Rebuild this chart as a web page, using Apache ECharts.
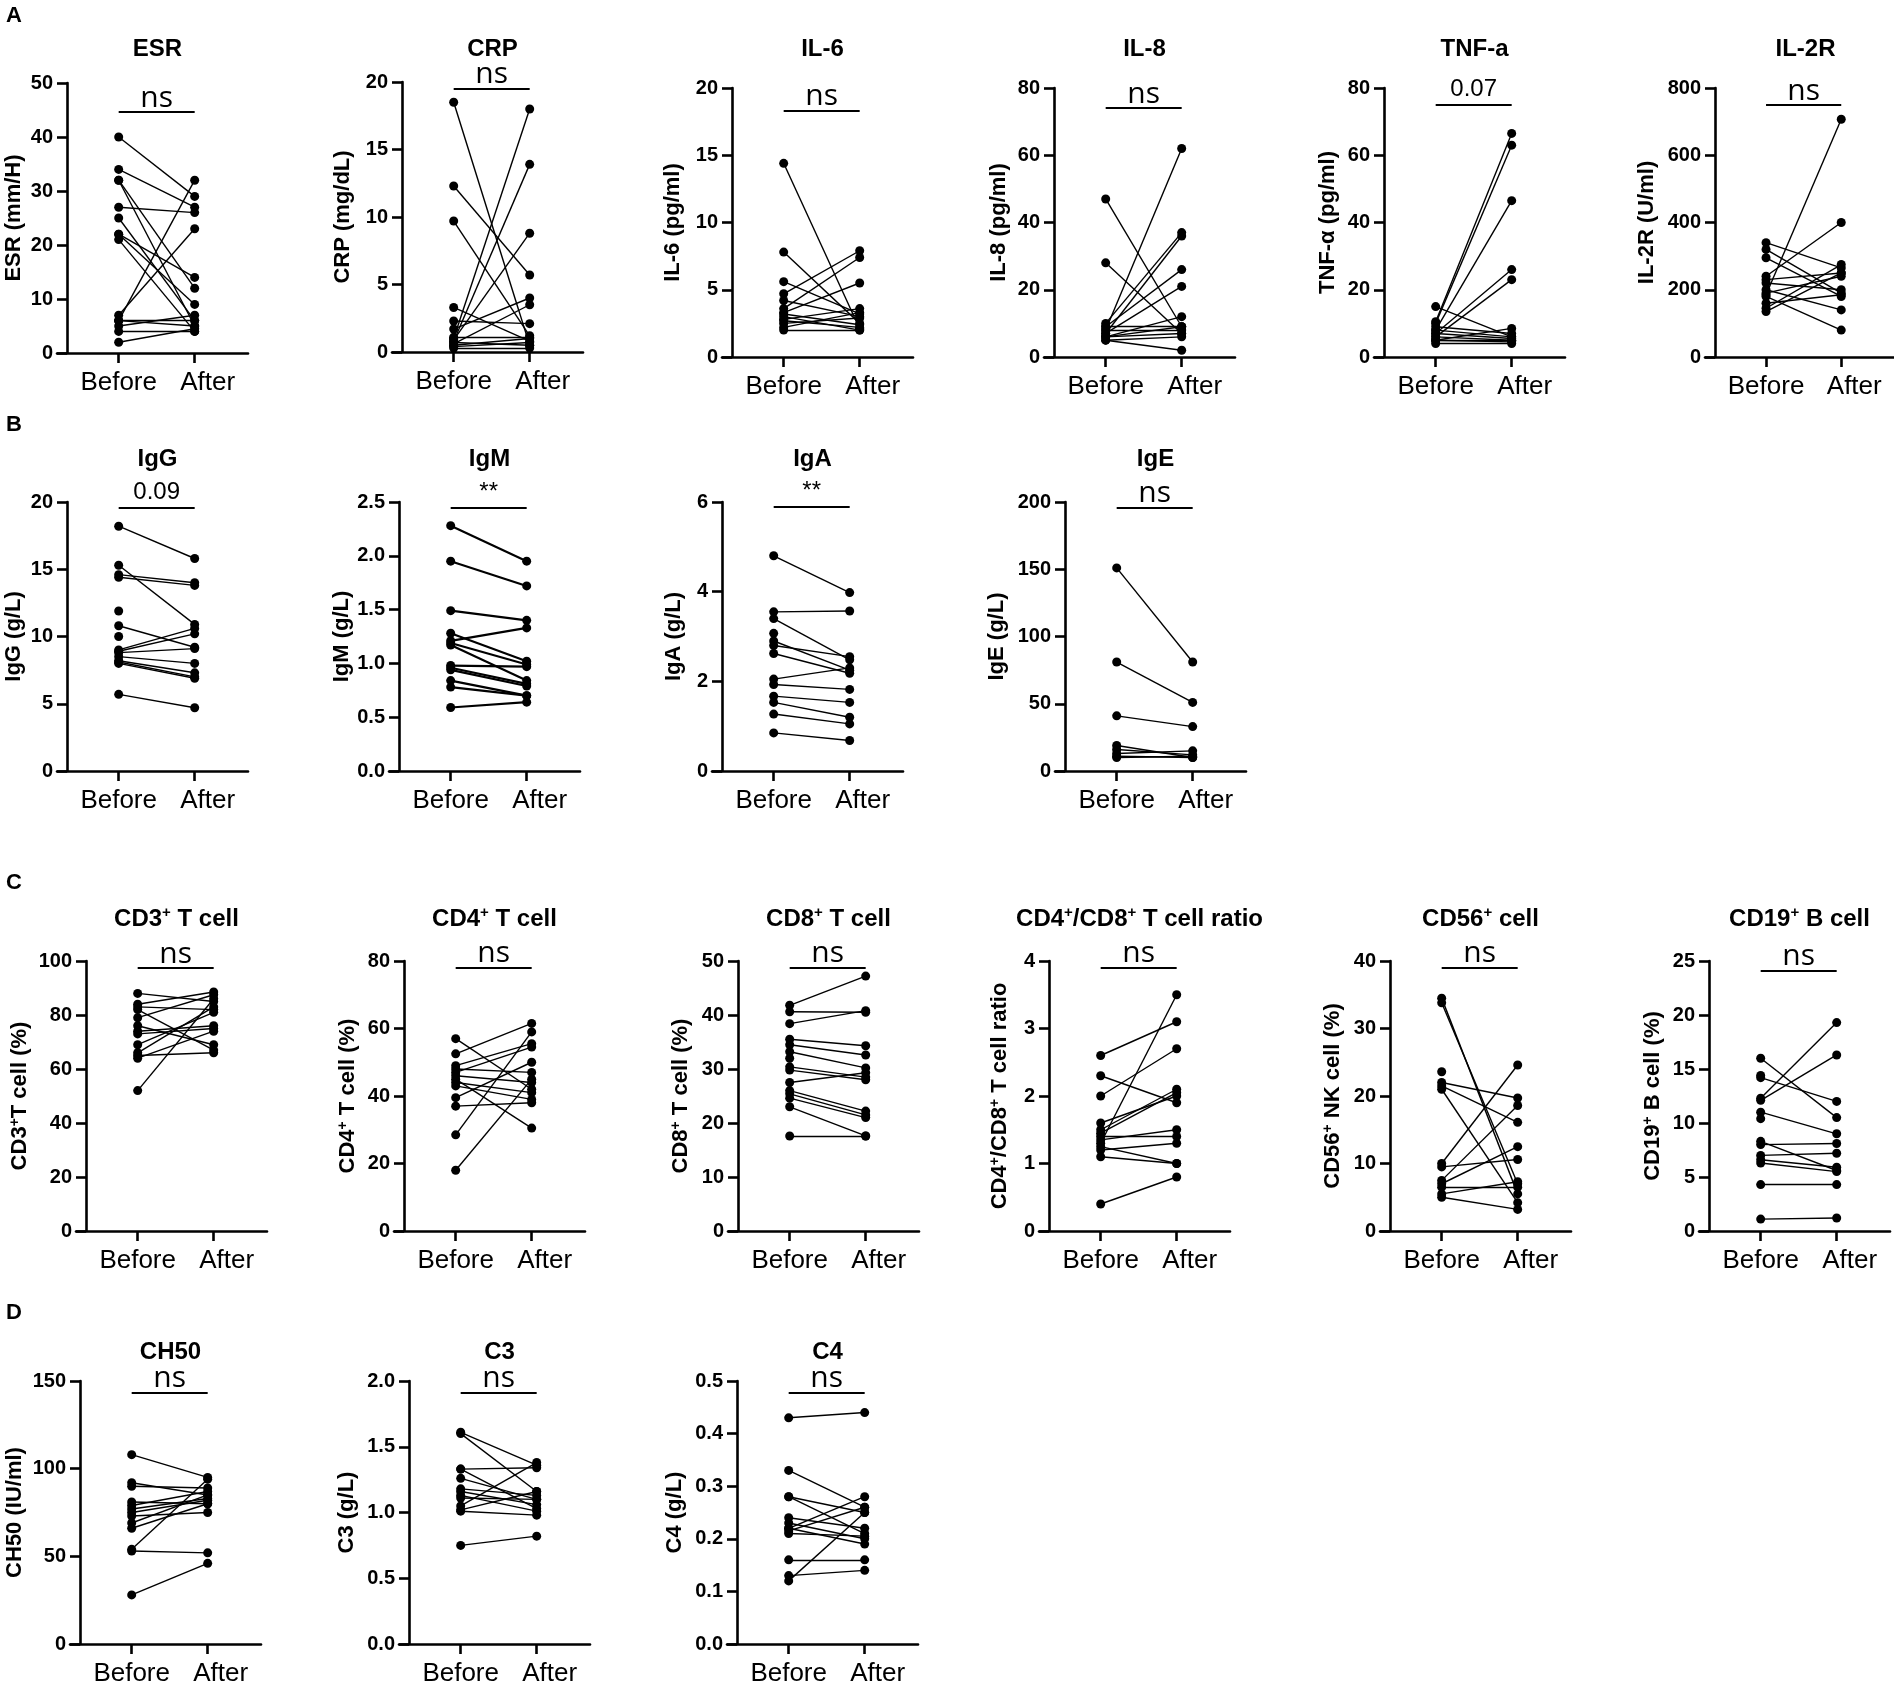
<!DOCTYPE html>
<html>
<head>
<meta charset="utf-8">
<script src="https://cdn.jsdelivr.net/npm/echarts@6/dist/echarts.min.js"></script>
<style>
  html, body { margin: 0; padding: 0; background: #fff; }
  #chart { width: 1894px; height: 1687px; }
</style>
</head>
<body>
<div id="chart"></div>
<script>
// x categories
var xCats = ['Before', 'After'];

// A: inflammation markers / cytokines (paired, same index = same patient)
var esrBefore = [40, 34, 32, 32, 27, 25, 22, 22, 21, 7, 6, 6, 6, 5, 4, 2];
var esrAfter  = [29, 27, 12, 5, 26, 6, 14, 9, 4, 23, 32, 6, 5, 7, 4, 4.5];
var crpBefore = [18.5, 12.3, 9.7, 3.3, 2.3, 1.7, 1.0, 0.8, 0.9, 0.6, 0.5, 0.4, 0.3, 1.1, 0.7];
var crpAfter  = [0.5, 5.7, 1.2, 0.8, 2.1, 4.0, 18.0, 13.9, 8.8, 3.5, 1.0, 0.7, 0.3, 1.1, 0.5];
var il6Before = [14.4, 7.8, 5.6, 4.7, 4.2, 3.6, 3.3, 3.0, 2.8, 2.5, 3.2, 2.0, 2.2, 2.7];
var il6After  = [2.1, 2.5, 3.2, 7.9, 3.0, 7.4, 5.5, 2.0, 3.6, 2.9, 2.4, 2.0, 3.3, 2.2];
var il8Before = [47, 28, 10, 9, 8, 7, 7, 6, 6, 5, 5, 8, 9, 6];
var il8After  = [9, 7, 37, 26, 62, 36, 21, 12, 9, 2, 6, 8, 9, 7];
var tnfBefore = [15, 10.5, 10, 9, 8, 7, 6, 6, 5, 5, 4, 7, 8, 5];
var tnfAfter  = [6, 66.5, 63, 7, 46.5, 26, 23, 5, 8.5, 4.5, 4, 5.5, 6, 5];
var il2rBefore = [340, 320, 295, 240, 230, 220, 200, 190, 180, 185, 145, 135, 160];
var il2rAfter  = [265, 190, 180, 400, 250, 200, 140, 240, 80, 707, 275, 250, 185];

// B: immunoglobulins
var iggBefore = [18.2, 15.3, 14.6, 14.4, 11.9, 10.8, 10.0, 9.0, 8.9, 8.8, 8.5, 8.2, 8.1, 8.0, 5.7];
var iggAfter  = [15.8, 10.9, 14.0, 13.8, null, 9.2, null, 10.6, 10.2, 9.1, 8.0, 7.3, 7.0, 6.9, 4.7];
var igmBefore = [2.28, 1.95, 1.49, 1.28, 1.21, 1.19, 1.17, 0.98, 0.96, 0.94, 0.84, 0.78, 0.59];
var igmAfter  = [1.95, 1.72, 1.40, 1.02, 1.33, 0.99, 0.84, 0.97, 0.81, 0.79, 0.70, 0.70, 0.64];
var igaBefore = [4.8, 3.55, 3.4, 3.07, 2.9, 2.8, 2.62, 2.05, 1.93, 1.67, 1.53, 1.27, 0.85];
var igaAfter  = [3.98, 3.57, 2.48, null, 2.25, 2.55, 2.18, 2.3, 1.82, 1.53, 1.2, 1.05, 0.68];
var igeBefore = [151, 81, 41, 19, 16, 13, 11, 10];
var igeAfter  = [81, 51, 33, 10, 12, 15, 10, 11];

// C: lymphocyte subsets
var cd3Before = [88, 84, 83, 82, 79, 76, 73, 69, 66, 65, 64, 52, 74];
var cd3After  = [85, 88.5, 82, 67, 87.5, 69, 75, 81, 83, 66, 74, 86, 76];
var cd4Before = [57, 52.5, 49, 48, 47, 46, 45, 44, 43, 39.5, 37, 28.5, 18];
var cd4After  = [42, 61.5, 55.5, 47, 54.5, 44, 30.5, 41, 39, 50, 38, 59, 45];
var cd8Before = [41.8, 40.6, 38.4, 35.5, 34.5, 33.2, 32, 30.4, 29.8, 27.5, 26, 25.4, 24.6, 23, 17.6];
var cd8After  = [47.2, 40.5, 40.8, 34.3, 32.6, 30.2, null, 28.5, 28.0, 29.3, 22.2, 21.5, 21.0, 17.6, 17.6];
var ratioBefore = [2.6, 2.3, 2.0, 1.6, 1.5, 1.45, 1.4, 1.35, 1.3, 1.25, 1.2, 1.1, 0.4];
var ratioAfter  = [3.1, 1.9, 2.7, 2.0, 2.1, 2.05, 1.4, 1.5, 3.5, 1.0, 1.3, 1.0, 0.8];
var cd56Before = [34.5, 33.8, 23.6, 22, 21.5, 21, 10, 9.5, 7.5, 7, 6.5, 5.5, 5];
var cd56After  = [5.5, 7, null, 19.7, 16.1, 4.2, 24.6, 10.6, 18.6, 12.5, 6.5, 7.3, 3.2];
var cd19Before = [16, 14.4, 14.2, 12.3, 12.1, 11, 10.4, 8.3, 8.0, 7.0, 6.6, 6.3, 4.3, 1.1];
var cd19After  = [10.5, null, 12.0, 19.3, 16.3, 9.0, null, 5.6, 8.1, 7.2, 5.9, 5.5, 4.3, 1.2];

// D: complement
var ch50Before = [108, 92, 90, 81, 79, 77, 75, 73, 69, 66, 54, 53, 28];
var ch50After  = [95, 85, 89, 80, 87, 83, 82, 75, 85, 80, 94, 52, 46];
var c3Before = [1.61, 1.60, 1.33, 1.33, 1.26, 1.18, 1.16, 1.13, 1.11, 1.05, 1.02, 1.01, 0.75];
var c3After  = [1.36, 1.16, 1.34, 1.03, 1.10, 1.13, 1.06, 1.01, 1.10, 1.38, 1.16, 0.98, 0.82];
var c4Before = [0.43, 0.33, 0.28, 0.28, 0.24, 0.23, 0.22, 0.22, 0.215, 0.21, 0.16, 0.13, 0.12];
var c4After  = [0.44, 0.26, 0.25, 0.21, 0.22, 0.20, 0.28, 0.19, 0.26, 0.205, 0.16, 0.14, 0.25];

// significance labels and bar heights (axis units)
var sigText = ['ns','ns','ns','ns','0.07','ns', '0.09','**','**','ns', 'ns','ns','ns','ns','ns','ns', 'ns','ns','ns'];
var sigLevel = [44.6, 19.5, 18.3, 74, 75, 749, 19.6, 2.45, 5.9, 196, 97.4, 78, 48.8, 3.9, 39, 24.1, 143.5, 1.91, 0.478];

var FONT = '"Liberation Sans", Arial, sans-serif';

function sup(a, b) { return '{m|' + a + '}{s|+}{m|' + b + '}'; }

var panels = [
  {title:'ESR', yName:'ESR (mm/H)', b:esrBefore, a:esrAfter, max:50, step:10, x:67, top:83, bottom:353, gap:41, ty:49},
  {title:'CRP', yName:'CRP (mg/dL)', b:crpBefore, a:crpAfter, max:20, step:5, x:402, top:82, bottom:352, gap:47, ty:49},
  {title:'IL-6', yName:'IL-6 (pg/ml)', b:il6Before, a:il6After, max:20, step:5, x:732, top:88, bottom:357, gap:47, ty:49},
  {title:'IL-8', yName:'IL-8 (pg/ml)', b:il8Before, a:il8After, max:80, step:20, x:1054, top:88, bottom:357, gap:43, ty:49},
  {title:'TNF-a', yName:'TNF-α (pg/ml)', b:tnfBefore, a:tnfAfter, max:80, step:20, x:1384, top:88, bottom:357, gap:44, ty:49},
  {title:'IL-2R', yName:'IL-2R (U/ml)', b:il2rBefore, a:il2rAfter, max:800, step:200, x:1715, top:88, bottom:357, gap:56, ty:49},

  {title:'IgG', yName:'IgG (g/L)', b:iggBefore, a:iggAfter, max:20, step:5, x:67, top:502, bottom:771, gap:41, ty:459},
  {title:'IgM', yName:'IgM (g/L)', b:igmBefore, a:igmAfter, max:2.5, step:0.5, x:399, top:502, bottom:771, gap:44, ty:459, dec:1, lw:2.2},
  {title:'IgA', yName:'IgA (g/L)', b:igaBefore, a:igaAfter, max:6, step:2, x:722, top:502, bottom:771, gap:36, ty:459},
  {title:'IgE', yName:'IgE (g/L)', b:igeBefore, a:igeAfter, max:200, step:50, x:1065, top:502, bottom:771, gap:56, ty:459},

  {title:sup('CD3', ' T cell'), yName:sup('CD3', 'T cell (%)'), b:cd3Before, a:cd3After, max:100, step:20, x:86, top:961, bottom:1231, gap:54, ty:919},
  {title:sup('CD4', ' T cell'), yName:sup('CD4', ' T cell (%)'), b:cd4Before, a:cd4After, max:80, step:20, x:404, top:961, bottom:1231, gap:44, ty:919},
  {title:sup('CD8', ' T cell'), yName:sup('CD8', ' T cell (%)'), b:cd8Before, a:cd8After, max:50, step:10, x:738, top:961, bottom:1231, gap:45, ty:919},
  {title:'{m|CD4}{s|+}{m|/CD8}{s|+}{m| T cell ratio}', yName:'{m|CD4}{s|+}{m|/CD8}{s|+}{m| T cell ratio}', b:ratioBefore, a:ratioAfter, max:4, step:1, x:1049, top:961, bottom:1231, gap:37, ty:919},
  {title:sup('CD56', ' cell'), yName:sup('CD56', ' NK cell (%)'), b:cd56Before, a:cd56After, max:40, step:10, x:1390, top:961, bottom:1231, gap:45, ty:919},
  {title:sup('CD19', ' B cell'), yName:sup('CD19', ' B cell (%)'), b:cd19Before, a:cd19After, max:25, step:5, x:1709, top:961, bottom:1231, gap:44, ty:919},

  {title:'CH50', yName:'CH50 (IU/ml)', b:ch50Before, a:ch50After, max:150, step:50, x:80, top:1381, bottom:1651, gap:53, ty:1352},
  {title:'C3', yName:'C3 (g/L)', b:c3Before, a:c3After, max:2.0, step:0.5, x:409, top:1381, bottom:1651, gap:50, ty:1352, dec:1},
  {title:'C4', yName:'C4 (g/L)', b:c4Before, a:c4After, max:0.5, step:0.1, x:737, top:1381, bottom:1651, gap:50, ty:1352, dec:1}
];

var PLOT_W = 181;     // y axis to end of x axis
var OVERHANG = 10;    // x axis line sticks out left of the y axis
var UNIT = 76;        // px between Before and After

var chart = echarts.init(document.getElementById('chart'), null, {renderer: 'canvas'});

var titles = [];
var grids = [];
var xAxes = [];
var yAxes = [];
var series = [];

['A', 'B', 'C', 'D'].forEach(function (l, i) {
  titles.push({
    text: l, left: 6, top: [5, 414, 872, 1302][i], padding: 0,
    textStyle: {fontFamily: FONT, fontWeight: 'bold', fontSize: 22, color: '#000'}
  });
});

var richTitle = {
  m: {fontFamily: FONT, fontWeight: 'bold', fontSize: 24, color: '#000', lineHeight: 28},
  s: {fontFamily: FONT, fontWeight: 'bold', fontSize: 15, color: '#000', verticalAlign: 'top', lineHeight: 15}
};
var richName = {
  m: {fontFamily: FONT, fontWeight: 'bold', fontSize: 22, color: '#000', lineHeight: 24},
  s: {fontFamily: FONT, fontWeight: 'bold', fontSize: 14, color: '#000', verticalAlign: 'top', lineHeight: 12}
};
var richCat = {
  b: {fontFamily: FONT, fontSize: 26, color: '#000'},
  a: {fontFamily: FONT, fontSize: 26, color: '#000', padding: [0, 0, 0, 26]}
};

var xMin = -0.68 - OVERHANG / UNIT;
var xMax = xMin + (PLOT_W + OVERHANG) / UNIT;

panels.forEach(function (p, i) {
  var isRich = p.title.indexOf('{m|') === 0;
  titles.push({
    text: isRich ? p.title : '{m|' + p.title + '}',
    left: p.x + PLOT_W / 2, top: p.ty - 14, textAlign: 'center', padding: 0,
    textStyle: {rich: richTitle}
  });

  grids.push({left: p.x - OVERHANG, top: p.top, width: PLOT_W + OVERHANG, height: p.bottom - p.top, containLabel: false});

  xAxes.push({
    gridIndex: i, type: 'value', min: xMin, max: xMax,
    axisLine: {show: true, onZero: false, lineStyle: {color: '#000', width: 2.6}},
    axisTick: {show: true, customValues: [0, 1], length: 10, lineStyle: {color: '#000', width: 2.6}},
    axisLabel: {
      customValues: [0, 1], margin: 17, color: '#000', rich: richCat,
      formatter: function (v) { return Math.round(v) === 0 ? '{b|' + xCats[0] + '}' : '{a|' + xCats[1] + '}'; }
    },
    splitLine: {show: false}
  });

  var isRichName = p.yName.indexOf('{m|') === 0;
  yAxes.push({
    gridIndex: i, type: 'value', min: 0, max: p.max, interval: p.step, offset: -OVERHANG,
    name: isRichName ? p.yName : '{m|' + p.yName + '}',
    nameLocation: 'middle', nameGap: p.gap, nameRotate: 90,
    nameTextStyle: {rich: richName},
    axisLine: {show: true, onZero: false, lineStyle: {color: '#000', width: 2.6}},
    axisTick: {show: true, length: 10, lineStyle: {color: '#000', width: 2.6}},
    axisLabel: {
      margin: 14, color: '#000', fontFamily: FONT, fontWeight: 'bold', fontSize: 20,
      formatter: function (v) { return p.dec ? v.toFixed(p.dec) : String(v); }
    },
    splitLine: {show: false}
  });

  var segs = [];
  var pts = [];
  p.b.forEach(function (bv, k) {
    var av = p.a[k];
    pts.push([0, bv]);
    if (av !== null && av !== undefined) {
      pts.push([1, av]);
      segs.push({coords: [[0, bv], [1, av]]});
    }
  });

  series.push({
    type: 'lines', coordinateSystem: 'cartesian2d', xAxisIndex: i, yAxisIndex: i,
    data: segs, silent: true, z: 2,
    lineStyle: {color: '#000', width: p.lw || 1.4, opacity: 1, curveness: 0}
  });

  var txt = sigText[i];
  series.push({
    type: 'scatter', xAxisIndex: i, yAxisIndex: i, data: pts, z: 3,
    symbol: 'circle', symbolSize: 9, itemStyle: {color: '#000', opacity: 1}, silent: true,
    markLine: {
      silent: true, symbol: ['none', 'none'],
      lineStyle: {color: '#000', width: 2, type: 'solid'},
      label: {
        show: true, position: 'insideMiddleTop', distance: txt === 'ns' ? -1 : 3,
        formatter: txt, color: '#000',
        fontFamily: txt === 'ns' ? '"Open Sans", "DejaVu Sans", sans-serif' : FONT,
        fontSize: txt === 'ns' ? 30 : 24
      },
      data: [[{coord: [0, sigLevel[i]]}, {coord: [1, sigLevel[i]]}]]
    }
  });
});

chart.setOption({
  animation: false,
  backgroundColor: '#fff',
  title: titles,
  grid: grids,
  xAxis: xAxes,
  yAxis: yAxes,
  series: series
});
</script>
</body>
</html>
